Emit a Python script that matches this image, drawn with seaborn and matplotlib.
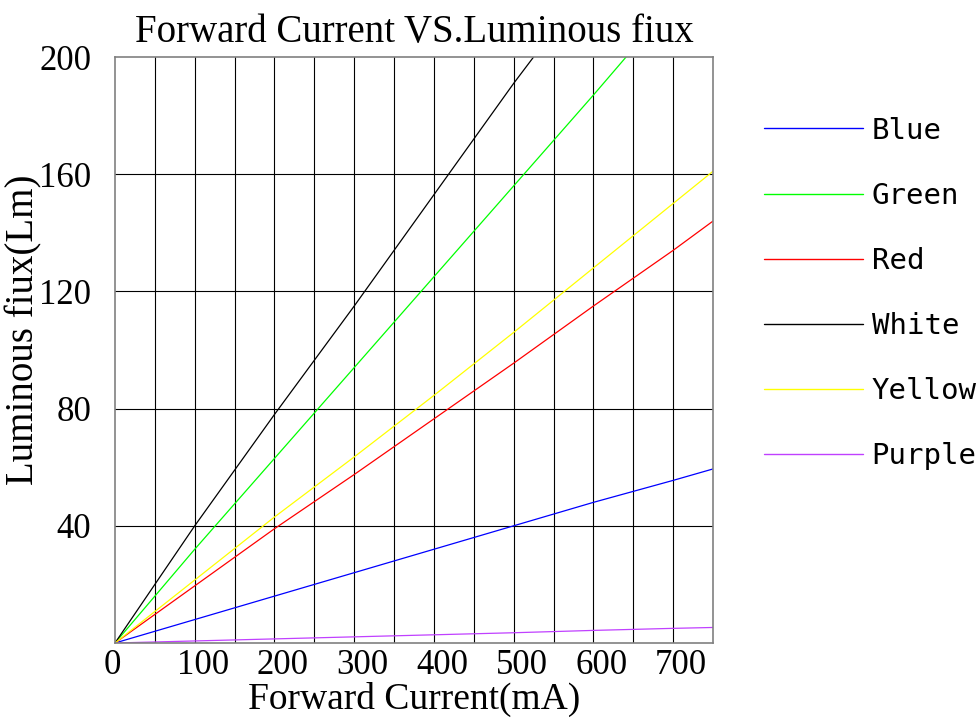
import matplotlib
matplotlib.use("Agg")
import matplotlib.pyplot as plt
import matplotlib.transforms as mtransforms
import seaborn as sns
import pandas as pd
import numpy as np

# ---- data ----
series_names = ["Blue", "Green", "Red", "White", "Yellow", "Purple"]
series_colors = ["#0000ff", "#00ff00", "#ff0000", "#000000", "#ffff00", "#c040ff"]

blue_x = [0, 100, 200, 300, 400, 500, 600, 700, 750]
blue_y = [0, 8, 16, 24, 32, 40, 48, 55.5, 59.4]
green_x = [0, 100, 200, 300, 400, 500, 600, 641]
green_y = [0, 32, 63, 94, 125, 156, 187, 200]
red_x = [0, 100, 200, 300, 400, 500, 600, 700, 750]
red_y = [0, 19.5, 39, 57.5, 76.5, 95.5, 115, 134, 144]
white_x = [0, 100, 200, 300, 400, 500, 525]
white_y = [0, 40, 78, 115, 153, 191, 200]
yellow_x = [0, 100, 200, 300, 400, 500, 600, 700, 750]
yellow_y = [0, 21.5, 43, 63.5, 84.5, 106, 128, 150, 161]
purple_x = [0, 100, 200, 300, 400, 500, 600, 700, 750]
purple_y = [0, 0.7, 1.4, 2.1, 2.8, 3.5, 4.3, 5.0, 5.3]

x_ticks = [0, 100, 200, 300, 400, 500, 600, 700]
y_ticks = [40, 80, 120, 160, 200]

title_text = "Forward Current VS.Luminous fiux"
x_label = "Forward Current(mA)"
y_label = "Luminous fiux(Lm)"

# ---- build long-form table ----
xs = [blue_x, green_x, red_x, white_x, yellow_x, purple_x]
ys = [blue_y, green_y, red_y, white_y, yellow_y, purple_y]
rows = []
for name, xx, yy in zip(series_names, xs, ys):
    for a, b in zip(xx, yy):
        rows.append({"Current": a, "Flux": b, "Series": name})
df = pd.DataFrame(rows)

sns.set_theme(style="white")
plt.rcParams["font.family"] = ["Liberation Serif", "DejaVu Serif"]
plt.rcParams["text.color"] = "black"
plt.rcParams["axes.labelcolor"] = "black"
plt.rcParams["xtick.color"] = "black"
plt.rcParams["ytick.color"] = "black"

fig = plt.figure(figsize=(9.79, 7.25), dpi=100)
ax = fig.add_axes([115 / 979, 1 - 643 / 725, (713 - 115) / 979, (643 - 57) / 725])

sns.lineplot(data=df, x="Current", y="Flux", hue="Series", hue_order=series_names,
             palette=dict(zip(series_names, series_colors)), linewidth=0.9,
             ax=ax, legend=True, sort=True, estimator=None)

ax.set_xlim(0, 750)
ax.set_ylim(0, 200)

# grid: vertical every 50, horizontal every 40
for gx in np.arange(50, 750, 50):
    ax.axvline(gx, color="black", linewidth=0.8, zorder=0)
for gy in [40, 80, 120, 160]:
    ax.axhline(gy, color="black", linewidth=0.8, zorder=0)

for sp in ax.spines.values():
    sp.set_color("#808080")
    sp.set_linewidth(1.2)
    sp.set_visible(True)

ax.set_xticks(x_ticks)
ax.set_xticklabels([str(v) for v in x_ticks])
ax.set_yticks(y_ticks)
ax.set_yticklabels([str(v) for v in y_ticks])
ax.tick_params(axis="both", length=0, labelsize=25, colors="black")
ax.tick_params(axis="x", pad=4)
ax.tick_params(axis="y", pad=17)

# x tick labels in the reference sit slightly right of their grid lines
for i, lab in enumerate(ax.get_xticklabels()):
    dx = -3 if i == 0 else 8
    lab.set_transform(lab.get_transform() + mtransforms.ScaledTranslation(dx / 100, 0, fig.dpi_scale_trans))

ax.set_title(title_text, fontsize=28, pad=11)
ax.set_xlabel(x_label, fontsize=27, labelpad=0)
ax.set_ylabel(y_label, fontsize=28)
ax.yaxis.set_label_coords((42 - 115) / 598, (643 - 330) / 586)

handles, labels = ax.get_legend_handles_labels()
leg = ax.legend(handles, labels, loc="upper left", bbox_to_anchor=(752 / 979, 1 - 105 / 725),
                bbox_transform=fig.transFigure, frameon=False,
                prop={"family": "DejaVu Sans Mono", "size": 21},
                handlelength=3.4, handletextpad=0.3, labelspacing=1.27, borderaxespad=0)
for lh in leg.get_lines():
    lh.set_linewidth(1.0)

fig.savefig("out.png", dpi=100, facecolor="white")
